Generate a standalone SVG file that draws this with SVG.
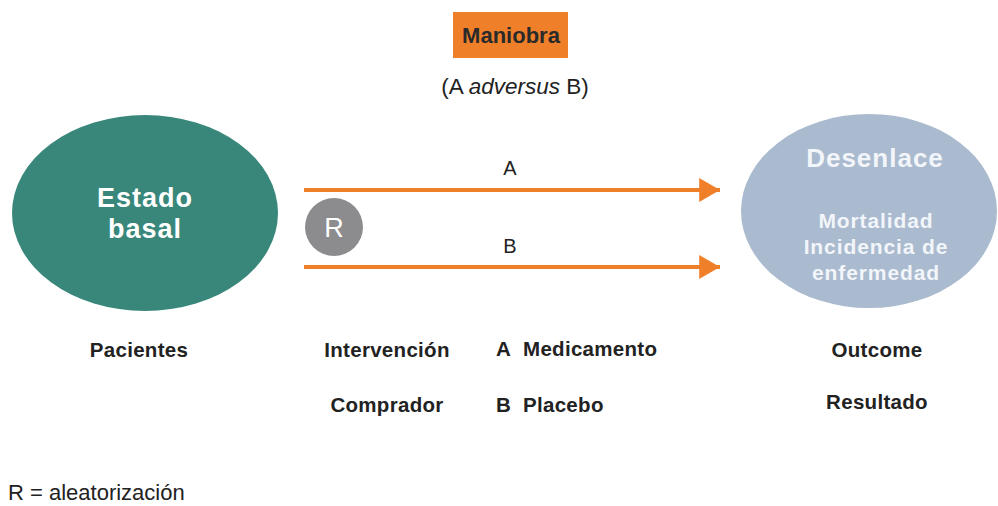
<svg xmlns="http://www.w3.org/2000/svg" width="998" height="506" viewBox="0 0 998 506">
<defs>
<style>
text{font-family:"Liberation Sans",Arial,sans-serif;fill:#222;}
.lbl{font-size:20.5px;font-weight:bold;letter-spacing:0.3px;}
.wt{fill:#fff;font-weight:bold;text-anchor:middle;}
.conn{stroke:#F07F2A;stroke-width:4;fill:none;}
</style>
<marker id="ah" markerWidth="6" markerHeight="6" refX="5.2" refY="3" orient="auto" markerUnits="strokeWidth">
<path d="M0,0 L5.2,3 L0,6 Z" fill="#F07F2A"/>
</marker>
</defs>
<rect width="998" height="506" fill="#fff"/>
<g id="maniobra">
<rect x="453" y="12" width="115" height="46" fill="#F07F2A"/>
<text x="511" y="43" text-anchor="middle" style="font-size:22px;font-weight:bold;fill:#2a2a2a">Maniobra</text>
<text x="515" y="94" text-anchor="middle" style="font-size:22.5px">(A <tspan font-style="italic">adversus</tspan> B)</text>
</g>
<g id="estado">
<ellipse cx="145" cy="213" rx="133" ry="98" fill="#38877A"/>
<text class="wt" x="145" y="207" style="font-size:27px;letter-spacing:1px">Estado</text>
<text class="wt" x="145" y="238" style="font-size:27px;letter-spacing:1px">basal</text>
</g>
<g id="desenlace">
<ellipse cx="869" cy="211" rx="128" ry="97" fill="#AABACF"/>
<text class="wt" x="875" y="167" style="font-size:26px;letter-spacing:1px;fill:#F2F5F9">Desenlace</text>
<text class="wt" x="876" y="228" style="font-size:21px;letter-spacing:0.9px;fill:#F2F5F9">Mortalidad</text>
<text class="wt" x="876" y="254" style="font-size:21px;letter-spacing:0.9px;fill:#F2F5F9">Incidencia de</text>
<text class="wt" x="876" y="280" style="font-size:21px;letter-spacing:0.9px;fill:#F2F5F9">enfermedad</text>
</g>
<g id="random">
<circle cx="334" cy="227" r="29" fill="#8C8C8E"/>
<text x="334" y="237" text-anchor="middle" style="font-size:27px;fill:#fff">R</text>
</g>
<g id="connectors">
<line class="conn" x1="304" y1="190" x2="720" y2="190" marker-end="url(#ah)"/>
<line class="conn" x1="304" y1="267" x2="720" y2="267" marker-end="url(#ah)"/>
<text x="510" y="175" text-anchor="middle" style="font-size:20px">A</text>
<text x="510" y="253" text-anchor="middle" style="font-size:20px">B</text>
</g>
<g id="labels">
<text class="lbl" x="139" y="357" text-anchor="middle">Pacientes</text>
<text class="lbl" x="387" y="357" text-anchor="middle">Intervención</text>
<text class="lbl" x="496" y="356">A</text>
<text class="lbl" x="523" y="356">Medicamento</text>
<text class="lbl" x="387" y="412" text-anchor="middle">Comprador</text>
<text class="lbl" x="496" y="412">B</text>
<text class="lbl" x="523" y="412">Placebo</text>
<text class="lbl" x="877" y="357" text-anchor="middle">Outcome</text>
<text class="lbl" x="877" y="409" text-anchor="middle">Resultado</text>
<text x="8" y="500" style="font-size:22px">R = aleatorización</text>
</g>
</svg>
